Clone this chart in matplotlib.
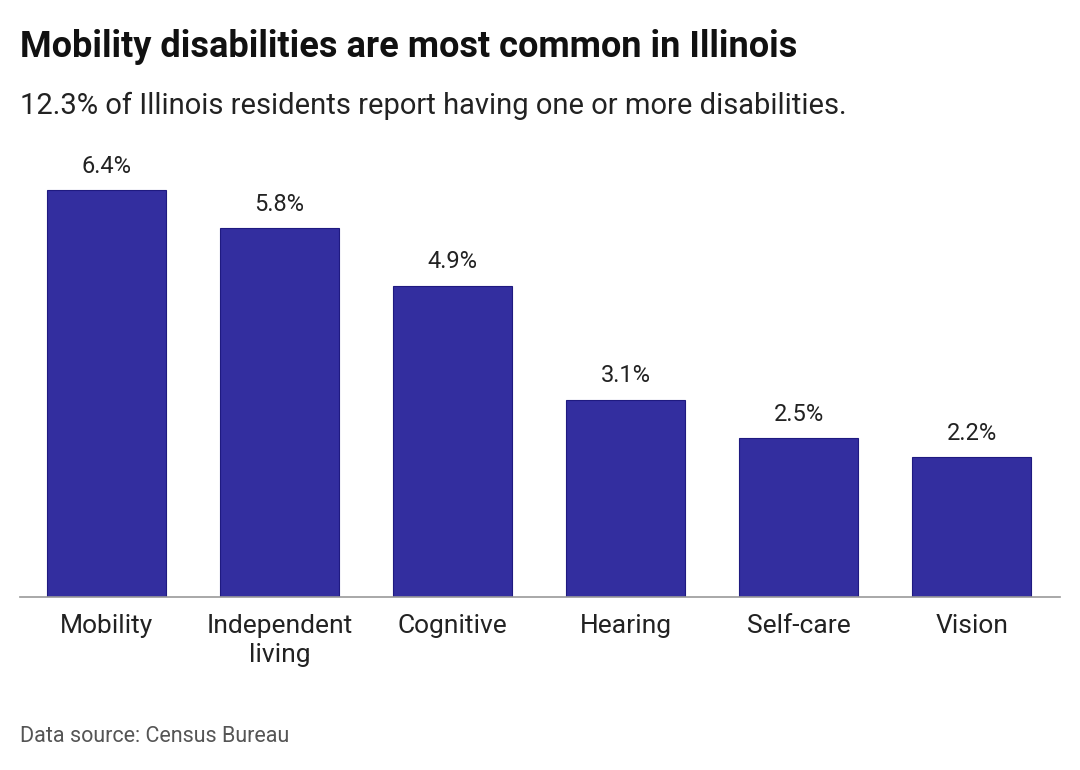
import matplotlib

matplotlib.use("Agg")
import matplotlib.pyplot as plt  # noqa: E402

categories = ["Mobility", "Independent\nliving", "Cognitive", "Hearing", "Self-care", "Vision"]
values = [6.4, 5.8, 4.9, 3.1, 2.5, 2.2]
value_labels = ["6.4%", "5.8%", "4.9%", "3.1%", "2.5%", "2.2%"]

BAR_COLOR = "#332e9f"
plt.rcParams["font.family"] = ["Roboto", "DejaVu Sans"]

W, H = 1080, 770
fig = plt.figure(figsize=(W / 100, H / 100), dpi=100)
ax = fig.add_axes([20 / W, 1 - 597 / H, 1040 / W, (597 - 140) / H])

x = range(len(categories))
ax.bar(x, values, width=0.69, color=BAR_COLOR, edgecolor="#1f1a80", linewidth=0.8, zorder=2)
for xi, v, lab in zip(x, values, value_labels):
    ax.annotate(lab, (xi, v), xytext=(0, 9), textcoords="offset points",
                ha="center", va="bottom", fontsize=17, color="#222222")

ax.set_xlim(-0.5, 5.51)
ax.set_ylim(0, 7.19)
ax.set_yticks([])
ax.set_xticks(list(x))
ax.set_xticklabels(categories, fontsize=19, color="#222222", linespacing=1.3)
ax.tick_params(axis="x", length=0, pad=12)
for s in ["top", "right", "left"]:
    ax.spines[s].set_visible(False)
ax.spines["bottom"].set_color("#999999")
ax.spines["bottom"].set_linewidth(1.2)

fig.text(20 / W, 1 - 47 / H, "Mobility disabilities are most common in Illinois",
         fontsize=26, fontweight="bold", color="#111111", va="center")
fig.text(20 / W, 1 - 106 / H, "12.3% of Illinois residents report having one or more disabilities.",
         fontsize=21, color="#222222", va="center")
fig.text(20 / W, 1 - 736 / H, "Data source: Census Bureau",
         fontsize=15.5, color="#555555", va="center")

fig.savefig("out.png", dpi=100, facecolor="white")
